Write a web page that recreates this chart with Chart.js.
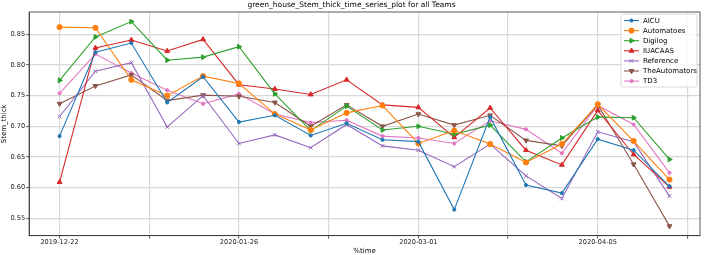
<!DOCTYPE html>
<html>
<head>
<meta charset="utf-8">
<script src="https://cdn.jsdelivr.net/npm/chart.js@4/dist/chart.umd.min.js"></script>
<style>
  html, body { margin: 0; padding: 0; background: #fff; }
  canvas { display: block; }
</style>
</head>
<body>
<canvas id="stemChart" width="705" height="255"></canvas>
<script>
const dates = ['2019-12-22', '2019-12-29', '2020-01-05', '2020-01-12', '2020-01-19', '2020-01-26',
    '2020-02-02', '2020-02-09', '2020-02-16', '2020-02-23', '2020-03-01', '2020-03-08',
    '2020-03-15', '2020-03-22', '2020-03-29', '2020-04-05', '2020-04-12', '2020-04-19']

const aicu = [0.684, 0.821, 0.836, 0.739, 0.781, 0.707, 0.718, 0.685, 0.705, 0.678, 0.675, 0.564, 0.715, 0.604, 0.591, 0.679, 0.661, 0.602]
const automatoes = [0.862, 0.861, 0.776, 0.750, 0.782, 0.770, 0.720, 0.694, 0.722, 0.734, 0.672, 0.693, 0.671, 0.641, 0.671, 0.736, 0.676, 0.613]
const digilog = [0.775, 0.846, 0.871, 0.808, 0.813, 0.830, 0.753, 0.693, 0.733, 0.694, 0.700, 0.687, 0.702, 0.642, 0.681, 0.715, 0.714, 0.646]
const iuacaas = [0.609, 0.828, 0.841, 0.823, 0.842, 0.768, 0.761, 0.752, 0.776, 0.735, 0.731, 0.682, 0.730, 0.661, 0.637, 0.726, 0.654, 0.601]
const reference = [0.716, 0.790, 0.804, 0.699, 0.750, 0.672, 0.686, 0.665, 0.703, 0.668, 0.661, 0.634, 0.671, 0.619, 0.582, 0.691, 0.675, 0.586]
const theAutomators = [0.737, 0.766, 0.784, 0.742, 0.751, 0.749, 0.739, 0.700, 0.735, 0.700, 0.720, 0.702, 0.718, 0.677, 0.668, 0.735, 0.638, 0.537]
const td3 = [0.754, 0.818, 0.787, 0.759, 0.737, 0.753, 0.720, 0.706, 0.710, 0.684, 0.681, 0.672, 0.709, 0.695, 0.656, 0.734, 0.703, 0.624]

const xTickLabels = ['2019-12-22', '2020-01-26', '2020-03-01', '2020-04-05']
const yTickValues = [0.55, 0.60, 0.65, 0.70, 0.75, 0.80, 0.85]

const FONT = 'DejaVu Sans'
const DAY = 86400000
const dayOf = (s) => Math.round((Date.parse(s + 'T00:00:00Z') - Date.parse(dates[0] + 'T00:00:00Z')) / DAY)

const toPoints = (vals) => vals.map((v, i) => ({x: dayOf(dates[i]), y: v}))

// major ticks get a date label, minor ones halfway between are unlabelled
const majorDays = xTickLabels.map(dayOf)
const xTicks = []
majorDays.forEach((d) => { xTicks.push(d); xTicks.push(d + 17.5) })

const series = [
    {label: 'AICU', data: aicu, color: '#1f77b4', style: 'circle', radius: 1.6, rot: 0},
    {label: 'Automatoes', data: automatoes, color: '#ff7f0e', style: 'circle', radius: 2.6, rot: 0},
    {label: 'Digilog', data: digilog, color: '#2ca02c', style: 'triangle', radius: 2.8, rot: 90},
    {label: 'IUACAAS', data: iuacaas, color: '#d62728', style: 'triangle', radius: 2.8, rot: 0},
    {label: 'Reference', data: reference, color: '#9467bd', style: 'crossRot', radius: 2.6, rot: 0},
    {label: 'TheAutomators', data: theAutomators, color: '#8c564b', style: 'triangle', radius: 2.8, rot: 180},
    {label: 'TD3', data: td3, color: '#e377c2', style: 'circle', radius: 1.6, rot: 0},
]

const frame = {
    id: 'frame',
    afterDatasetsDraw(chart) {
        const {ctx, chartArea: a} = chart
        ctx.save()
        ctx.strokeStyle = '#333'
        ctx.lineWidth = 0.8
        ctx.strokeRect(a.left, a.top, a.right - a.left, a.bottom - a.top)
        ctx.restore()
    }
}

const boxLegend = {
    id: 'boxLegend',
    afterDraw(chart) {
        const {ctx, chartArea: a} = chart
        const w = 76, h = 73
        const x0 = a.right - w - 3, y0 = a.top + 2
        ctx.save()
        ctx.fillStyle = 'rgba(255,255,255,0.85)'
        ctx.strokeStyle = '#d0d0d0'
        ctx.lineWidth = 0.8
        ctx.beginPath()
        ctx.roundRect(x0, y0, w, h, 2)
        ctx.fill()
        ctx.stroke()
        ctx.font = '7px "' + FONT + '"'
        ctx.textBaseline = 'middle'
        chart.data.datasets.forEach((ds, i) => {
            const y = y0 + 6.5 + i * 10.1
            ctx.strokeStyle = ds.borderColor
            ctx.lineWidth = 1.1
            ctx.beginPath()
            ctx.moveTo(x0 + 3, y)
            ctx.lineTo(x0 + 18, y)
            ctx.stroke()
            ctx.fillStyle = ds.backgroundColor
            ctx.strokeStyle = ds.borderColor
            ctx.lineWidth = 1
            Chart.helpers.drawPoint(ctx, {
                pointStyle: ds.pointStyle, rotation: ds.pointRotation,
                radius: ds.pointRadius, borderWidth: 1
            }, x0 + 10.5, y)
            ctx.fillStyle = '#000'
            ctx.fillText(ds.label, x0 + 22, y + 0.5)
        })
        ctx.restore()
    }
}

const ctx = document.getElementById('stemChart').getContext('2d')
new Chart(ctx, {
    type: 'line',
    data: {
        datasets: series.map((s) => ({
            label: s.label,
            data: toPoints(s.data),
            borderColor: s.color,
            backgroundColor: s.color,
            borderWidth: 1.1,
            pointStyle: s.style,
            pointRotation: s.rot,
            pointRadius: s.radius,
            pointBorderWidth: 1,
            tension: 0,
        })),
    },
    options: {
        responsive: false,
        devicePixelRatio: 1,
        animation: false,
        layout: {padding: {left: 0, right: 2, top: 1, bottom: 0}},
        plugins: {
            legend: {display: false},
            tooltip: {enabled: false},
            title: {
                display: true,
                text: 'green_house_Stem_thick_time_series_plot for all Teams',
                color: '#000',
                font: {family: FONT, size: 7.5, weight: 'normal'},
                padding: {top: 0, bottom: 2},
            },
        },
        scales: {
            x: {
                type: 'linear',
                min: -5.95,
                max: 124.95,
                afterBuildTicks: (scale) => { scale.ticks = xTicks.map((v) => ({value: v})) },
                ticks: {
                    autoSkip: false,
                    maxRotation: 0,
                    color: '#222',
                    font: {family: FONT, size: 6.6},
                    padding: 0,
                    callback: (v) => {
                        const i = majorDays.indexOf(v)
                        return i >= 0 ? xTickLabels[i] : ''
                    },
                },
                grid: {color: '#d8d8d8', lineWidth: 1.2, tickColor: '#333', tickLength: 3, tickWidth: 0.8},
                border: {color: '#333', width: 0.8},
                title: {display: true, text: '%time', color: '#000', font: {family: FONT, size: 7}, padding: {top: 0, bottom: 0}},
            },
            y: {
                min: 0.5214,
                max: 0.8867,
                afterBuildTicks: (scale) => { scale.ticks = yTickValues.map((v) => ({value: v})) },
                ticks: {
                    color: '#222',
                    font: {family: FONT, size: 6.6},
                    padding: 1,
                    callback: (v) => v.toFixed(2),
                },
                grid: {color: '#d8d8d8', lineWidth: 1.2, tickColor: '#333', tickLength: 3, tickWidth: 0.8},
                border: {color: '#333', width: 0.8},
                title: {display: true, text: 'Stem_thick', color: '#000', font: {family: FONT, size: 7}, padding: {top: 0, bottom: 1}},
            },
        },
    },
    plugins: [frame, boxLegend],
})
</script>
</body>
</html>
